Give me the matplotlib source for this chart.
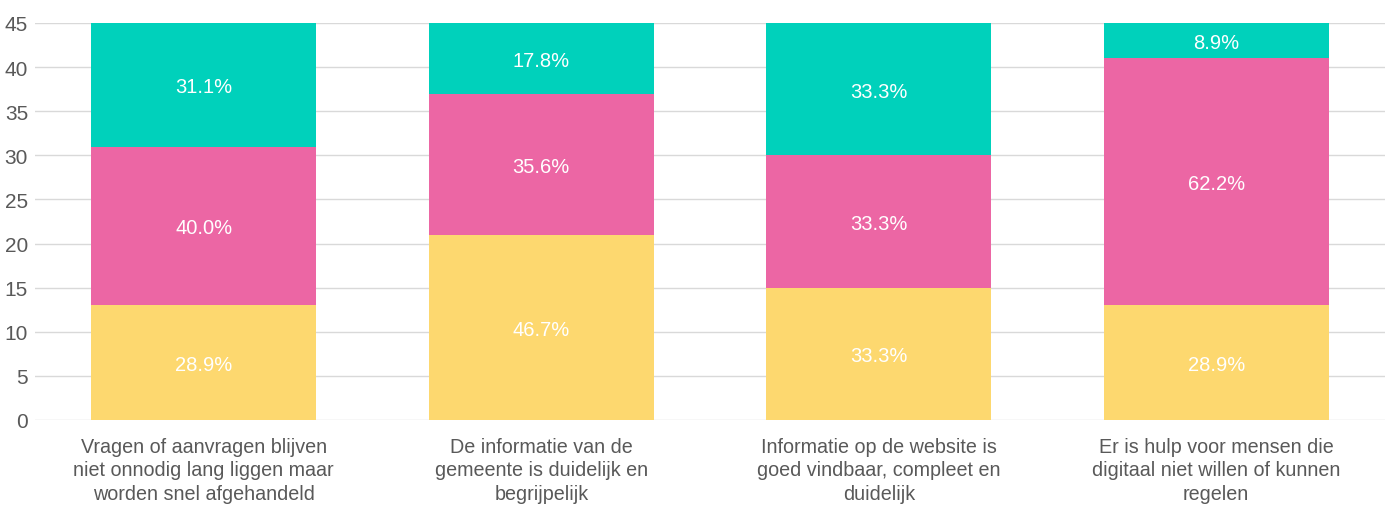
import numpy as np
import matplotlib.pyplot as plt

plt.rcParams['font.family'] = ['Liberation Sans', 'DejaVu Sans']

categories = [
    "Vragen of aanvragen blijven\nniet onnodig lang liggen maar\nworden snel afgehandeld",
    "De informatie van de\ngemeente is duidelijk en\nbegrijpelijk",
    "Informatie op de website is\ngoed vindbaar, compleet en\nduidelijk",
    "Er is hulp voor mensen die\ndigitaal niet willen of kunnen\nregelen",
]
yellow_vals = [13, 21, 15, 13]
pink_vals = [18, 16, 15, 28]
teal_vals = [14, 8, 15, 4]
yellow_pct = ["28.9%", "46.7%", "33.3%", "28.9%"]
pink_pct = ["40.0%", "35.6%", "33.3%", "62.2%"]
teal_pct = ["31.1%", "17.8%", "33.3%", "8.9%"]

colors = ["#FDD86F", "#EC66A4", "#00D1BB"]
text_grey = "#595959"

fig = plt.figure(figsize=(13.91, 5.06), dpi=100)
ax = fig.add_axes([35 / 1391, 1 - 421 / 506, 1350 / 1391, 397 / 506])

x = np.arange(len(categories))
w = 0.667
bottom = np.zeros(len(categories))
for vals, labels, c in zip([yellow_vals, pink_vals, teal_vals],
                           [yellow_pct, pink_pct, teal_pct], colors):
    bars = ax.bar(x, vals, w, bottom=bottom, color=c, zorder=2)
    texts = ax.bar_label(bars, labels=labels, label_type='center', color='white',
                         fontsize=14.5)
    for t in texts:
        t.set_va('center_baseline')
    bottom += np.array(vals)

ax.set_xlim(-0.5, 3.5)
ax.set_ylim(0, 45)
ax.set_yticks(range(0, 46, 5))
ax.grid(axis='y', color='#d9d9d9', linewidth=1, zorder=0)
ax.set_xticks(x)
ax.set_xticklabels(categories, fontsize=14.2, color=text_grey, linespacing=1.3)
ax.tick_params(axis='both', length=0, colors=text_grey)
ax.tick_params(axis='x', pad=12, labelsize=14.2)
ax.tick_params(axis='y', pad=5, labelsize=15)
for s in ax.spines.values():
    s.set_visible(False)

fig.savefig("out.png", dpi=100)
